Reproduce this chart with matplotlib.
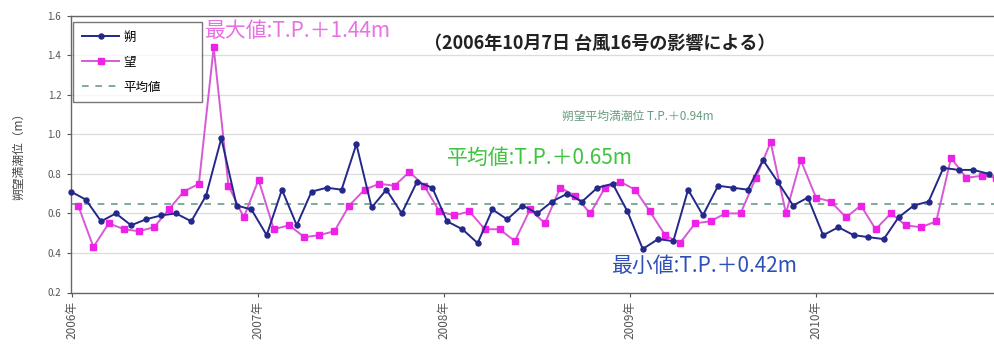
import matplotlib
matplotlib.use("Agg")
import matplotlib.pyplot as plt
import pandas as pd

plt.rcParams['font.family'] = ['Noto Sans CJK JP', 'DejaVu Sans']

# 朔 (new moon) high-tide dates and levels [m, T.P.]
saku_dates = [
    "2005-12-31", "2006-01-29", "2006-02-28", "2006-03-29", "2006-04-28", "2006-05-27",
    "2006-06-26", "2006-07-25", "2006-08-24", "2006-09-22", "2006-10-22", "2006-11-21",
    "2006-12-20",
    "2007-01-19", "2007-02-18", "2007-03-19", "2007-04-17", "2007-05-17", "2007-06-15",
    "2007-07-14", "2007-08-13", "2007-09-11", "2007-10-11", "2007-11-10", "2007-12-10",
    "2008-01-08", "2008-02-07", "2008-03-08", "2008-04-06", "2008-05-05", "2008-06-04",
    "2008-07-03", "2008-08-01", "2008-08-31", "2008-09-29", "2008-10-29", "2008-11-28",
    "2008-12-27",
    "2009-01-26", "2009-02-25", "2009-03-27", "2009-04-25", "2009-05-24", "2009-06-23",
    "2009-07-22", "2009-08-20", "2009-09-19", "2009-10-18", "2009-11-17", "2009-12-16",
    "2010-01-15", "2010-02-14", "2010-03-16", "2010-04-14", "2010-05-14", "2010-06-12",
    "2010-07-12", "2010-08-10", "2010-09-08", "2010-10-08", "2010-11-06", "2010-12-06",
]
saku_values = [
    0.71, 0.67, 0.56, 0.60, 0.54, 0.57, 0.59, 0.60, 0.56, 0.69, 0.98, 0.64, 0.62,
    0.49, 0.72, 0.54, 0.71, 0.73, 0.72, 0.95, 0.63, 0.72, 0.60, 0.76, 0.73,
    0.56, 0.52, 0.45, 0.62, 0.57, 0.64, 0.60, 0.66, 0.70, 0.66, 0.73, 0.75, 0.61,
    0.42, 0.47, 0.46, 0.72, 0.59, 0.74, 0.73, 0.72, 0.87, 0.76, 0.64, 0.68,
    0.49, 0.53, 0.49, 0.48, 0.47, 0.58, 0.64, 0.66, 0.83, 0.82, 0.82, 0.80,
]

# 望 (full moon) high-tide dates and levels [m, T.P.]
bou_dates = [
    "2006-01-14", "2006-02-13", "2006-03-15", "2006-04-14", "2006-05-13", "2006-06-12",
    "2006-07-11", "2006-08-09", "2006-09-08", "2006-10-07", "2006-11-05", "2006-12-05",
    "2007-01-03", "2007-02-02", "2007-03-04", "2007-04-03", "2007-05-02", "2007-06-01",
    "2007-06-30", "2007-07-30", "2007-08-28", "2007-09-27", "2007-10-26", "2007-11-24",
    "2007-12-24",
    "2008-01-22", "2008-02-21", "2008-03-22", "2008-04-20", "2008-05-20", "2008-06-19",
    "2008-07-18", "2008-08-17", "2008-09-15", "2008-10-15", "2008-11-13", "2008-12-13",
    "2009-01-11", "2009-02-09", "2009-03-11", "2009-04-09", "2009-05-09", "2009-06-08",
    "2009-07-07", "2009-08-06", "2009-09-05", "2009-10-04", "2009-11-03", "2009-12-02",
    "2010-01-01", "2010-01-30", "2010-03-01", "2010-03-30", "2010-04-28", "2010-05-28",
    "2010-06-26", "2010-07-26", "2010-08-25", "2010-09-23", "2010-10-23", "2010-11-22",
    "2010-12-21",
]
bou_values = [
    0.64, 0.43, 0.55, 0.52, 0.51, 0.53, 0.62, 0.71, 0.75, 1.44, 0.74, 0.58,
    0.77, 0.52, 0.54, 0.48, 0.49, 0.51, 0.64, 0.72, 0.75, 0.74, 0.81, 0.74, 0.61,
    0.59, 0.61, 0.52, 0.52, 0.46, 0.62, 0.55, 0.73, 0.69, 0.60, 0.73, 0.76,
    0.72, 0.61, 0.49, 0.45, 0.55, 0.56, 0.60, 0.60, 0.78, 0.96, 0.60, 0.87,
    0.68, 0.66, 0.58, 0.64, 0.52, 0.60, 0.54, 0.53, 0.56, 0.88, 0.78, 0.79, 0.78,
]

mean_level = 0.65
year_ticks = ["2006-01-01", "2007-01-01", "2008-01-01", "2009-01-01", "2010-01-01"]
year_labels = ["2006年", "2007年", "2008年", "2009年", "2010年"]
y_ticks = [0.2, 0.4, 0.6, 0.8, 1.0, 1.2, 1.4, 1.6]

W, H = 994, 344
fig = plt.figure(figsize=(W / 100, H / 100), dpi=100)
fig.patch.set_facecolor("white")

x0 = pd.Timestamp("2005-12-31")
x1 = pd.Timestamp("2011-01-01")
left_px, right_px, top_px, bot_px = 71, 1002, 15.7, 292.5
ax = fig.add_axes([left_px / W, 1 - bot_px / H, (right_px - left_px) / W, (bot_px - top_px) / H])

sd = pd.to_datetime(saku_dates)
bd = pd.to_datetime(bou_dates)

ax.plot(sd, saku_values, color="#23288a", lw=1.4, marker="o", ms=3.6,
        mfc="#23288a", mec="#23288a", label="朔", zorder=4, clip_on=False)
ax.plot(bd, bou_values, color="#d65ad4", lw=1.4, marker="s", ms=4.6,
        mfc="#ee22e6", mec="#ee22e6", label="望", zorder=3, clip_on=False)
ax.axhline(mean_level, color="#6a9e84", lw=1.2, ls=(0, (4, 4)), label="平均値", zorder=2)

ax.set_xlim(x0, x1)
ax.set_ylim(0.2, 1.6)
ax.set_yticks(y_ticks)
ax.set_yticklabels([f"{v:.1f}" for v in y_ticks])
ax.set_xticks(pd.to_datetime(year_ticks))
ax.set_xticklabels(year_labels, rotation=90, va="top", ha="center")
ax.tick_params(axis="y", labelsize=7, colors="#555555", length=3, width=0.8, pad=4)
ax.tick_params(axis="x", labelsize=8.5, colors="#555555", length=3, width=0.8, pad=3)
ax.grid(axis="y", color="#dcdcdc", lw=0.9)
ax.set_axisbelow(True)
for s in ("left", "bottom", "top"):
    ax.spines[s].set_color("#666666")
    ax.spines[s].set_linewidth(1.0)
ax.spines["right"].set_visible(False)

fig.text(19 / W, 1 - 153 / H, "朔望満潮位（m）", rotation=90, fontsize=8.5,
         color="#444444", ha="center", va="center")

leg = ax.legend(loc="upper left", bbox_to_anchor=(73 / W, 1 - 100 / H, 129 / W, 78 / H),
                bbox_transform=fig.transFigure, borderaxespad=0, mode="expand",
                fontsize=9, handlelength=3.0, labelspacing=0.95, frameon=True,
                fancybox=False, borderpad=0.7, handletextpad=0.3)
leg.get_frame().set_edgecolor("#555555")
leg.get_frame().set_linewidth(1.0)

def ftext(px, py, s, **kw):
    fig.text(px / W, 1 - py / H, s, va="center", ha="left", **kw)

ftext(205, 31, "最大値:T.P.＋1.44m", fontsize=15, color="#e870e4")
ftext(424, 43, "（2006年10月7日 台風16号の影響による）", fontsize=13,
      color="#222222", fontweight="bold")
ftext(562, 116, "朔望平均満潮位 T.P.＋0.94m", fontsize=8.5, color="#6a9a80")
ftext(447, 158, "平均値:T.P.＋0.65m", fontsize=15, color="#3ec43e")
ftext(612, 266, "最小値:T.P.＋0.42m", fontsize=15, color="#2f4fb8")

fig.savefig("out.png", dpi=100, facecolor="white")
